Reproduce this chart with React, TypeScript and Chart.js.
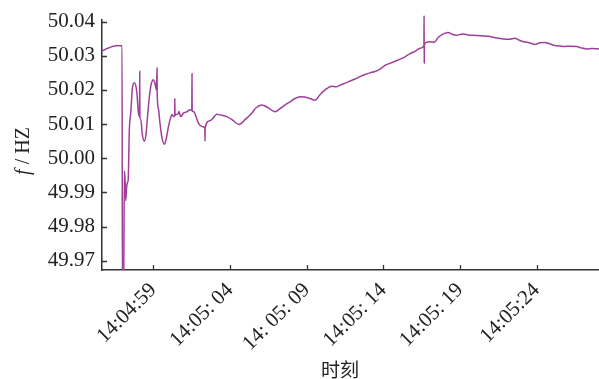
import React, { useEffect, useRef } from "react";
import { Chart, registerables } from "chart.js";

Chart.register(...registerables);

// seconds after 14:04:00
const times = [
  55.65, 55.8, 55.95, 56.1, 56.25, 56.4, 56.55, 56.7, 56.85, 56.96,
  56.98, 57.06, 57.11, 57.15, 57.2, 57.25, 57.3, 57.36, 57.43, 57.53,
  57.63, 57.76, 57.92, 58.02, 58.1, 58.11, 58.12, 58.18, 58.28, 58.41,
  58.52, 58.63, 58.74, 58.85, 59.0, 59.11, 59.2, 59.24, 59.25, 59.33,
  59.44, 59.57, 59.72, 59.83, 59.96, 60.09, 60.22, 60.3, 60.39, 60.4,
  60.41, 60.48, 60.63, 60.66, 60.79, 60.96, 61.18, 61.39, 61.51, 61.52,
  61.53, 61.65, 61.78, 61.94, 62.16, 62.36, 62.37, 62.38, 62.7, 62.89,
  63.13, 63.35, 63.79, 64.13, 64.59, 64.98, 65.42, 65.7, 66.07, 66.48,
  66.94, 67.26, 67.59, 67.91, 68.24, 68.56, 68.89, 69.22, 69.55, 69.87,
  70.2, 70.64, 70.92, 71.18, 71.51, 71.83, 72.16, 72.48, 72.81, 73.13,
  73.46, 73.79, 74.11, 74.44, 74.77, 75.09, 75.42, 75.74, 76.07, 76.4,
  76.65, 76.66, 76.67, 76.68, 76.79, 77.05, 77.31, 77.59, 77.83, 78.03,
  78.22, 78.48, 78.79, 79.0, 79.22, 79.53, 79.87, 80.18, 80.52, 80.83,
  81.18, 81.48, 81.83, 82.2, 82.59, 82.85, 83.14, 83.51, 83.9, 84.22,
  84.55, 84.81, 85.09, 85.4, 85.75, 86.18, 86.62, 86.9, 87.27, 87.62,
  88.07,
];

const freqs = [
  50.0314, 50.0317, 50.0321, 50.0323, 50.0326, 50.0328, 50.0329, 50.033, 50.0329, 50.033,
  49.96, 49.96, 49.9963, 49.9942, 49.9876, 49.9912, 49.9928, 49.9938, 50.0079, 50.0136,
  50.0204, 50.0221, 50.0194, 50.0136, 50.0122, 50.0255, 50.012, 50.0113, 50.007, 50.005,
  50.007, 50.0128, 50.018, 50.0215, 50.023, 50.0218, 50.02, 50.0264, 50.019, 50.0145,
  50.0099, 50.0058, 50.0041, 50.0055, 50.0087, 50.0113, 50.0128, 50.0122, 50.0124, 50.0175,
  50.0125, 50.0128, 50.0131, 50.0137, 50.0122, 50.0132, 50.0136, 50.0142, 50.014, 50.0247,
  50.0139, 50.0136, 50.0122, 50.0103, 50.0093, 50.0088, 50.005, 50.009, 50.011, 50.0117,
  50.0129, 50.0127, 50.0122, 50.0113, 50.0099, 50.0113, 50.0132, 50.0148, 50.0156, 50.0148,
  50.0136, 50.0145, 50.0156, 50.0165, 50.0175, 50.018, 50.0179, 50.0175, 50.017, 50.0186,
  50.02, 50.0211, 50.0209, 50.0214, 50.022, 50.0226, 50.0232, 50.0239, 50.0245, 50.025,
  50.0254, 50.0261, 50.0272, 50.0278, 50.0284, 50.029, 50.0297, 50.0306, 50.0313, 50.0322,
  50.0329, 50.0417, 50.0279, 50.0331, 50.0339, 50.0341, 50.0339, 50.0354, 50.0362, 50.0366,
  50.0368, 50.0363, 50.036, 50.0362, 50.0364, 50.0361, 50.036, 50.0359, 50.0358, 50.0357,
  50.0354, 50.0351, 50.0349, 50.0348, 50.0351, 50.0346, 50.0341, 50.0338, 50.0333, 50.0338,
  50.0339, 50.0336, 50.0331, 50.0329, 50.0327, 50.0328, 50.0327, 50.0323, 50.032, 50.0321,
  50.032,
];

const xTickValues = [59, 64, 69, 74, 79, 84];
const xTickLabels = ["14:04:59", "14:05: 04", "14: 05: 09", "14:05: 14", "14:05: 19", "14:05:24"];
const yTickValues = [49.97, 49.98, 49.99, 50.0, 50.01, 50.02, 50.03, 50.04];
const yTickLabels = ["49.97", "49.98", "49.99", "50.00", "50.01", "50.02", "50.03", "50.04"];

const xTitle = "时刻";
const yTitleItalic = "f";
const yTitleRest = " / HZ";

const SERIF = '"Liberation Serif", "Times New Roman", serif';

export default function App() {
  const ref = useRef<HTMLCanvasElement | null>(null);

  useEffect(() => {
    document.body.style.margin = "0";
    const canvas = ref.current;
    if (!canvas) return;

    const decor = {
      id: "decor",
      afterDraw(chart: any) {
        const { ctx, chartArea, scales } = chart;
        ctx.save();
        ctx.strokeStyle = "#333";
        ctx.lineWidth = 1.3;
        ctx.beginPath();
        for (const v of xTickValues) {
          const px = Math.round(scales.x.getPixelForValue(v)) + 0.5;
          ctx.moveTo(px, chartArea.bottom);
          ctx.lineTo(px, chartArea.bottom - 5);
        }
        for (const v of yTickValues) {
          const py = Math.round(scales.y.getPixelForValue(v)) + 0.5;
          ctx.moveTo(chartArea.left, py);
          ctx.lineTo(chartArea.left + 5, py);
        }
        ctx.stroke();

        // y title
        ctx.fillStyle = "#222";
        ctx.translate(24, 151);
        ctx.rotate(-Math.PI / 2);
        ctx.textBaseline = "middle";
        ctx.font = "italic 20px " + SERIF;
        const w1 = ctx.measureText(yTitleItalic).width;
        ctx.font = "20px " + SERIF;
        const w2 = ctx.measureText(yTitleRest).width;
        const sx = -(w1 + w2) / 2;
        ctx.font = "italic 20px " + SERIF;
        ctx.textAlign = "left";
        ctx.fillText(yTitleItalic, sx, 0);
        ctx.font = "20px " + SERIF;
        ctx.fillText(yTitleRest, sx + w1, 0);
        ctx.restore();

        // x title
        ctx.save();
        ctx.fillStyle = "#222";
        ctx.font = '19px "Noto Sans CJK SC", sans-serif';
        ctx.textAlign = "center";
        ctx.textBaseline = "middle";
        ctx.fillText(xTitle, chartArea.left + chartArea.width * 0.479, 370);
        ctx.restore();
      },
    };

    const chart = new Chart(canvas, {
      type: "line",
      data: {
        datasets: [
          {
            data: times.map((t, i) => ({ x: t, y: freqs[i] })),
            borderColor: "#9e3f9a",
            borderWidth: 1.5,
            pointRadius: 0,
            cubicInterpolationMode: "monotone",
            fill: false,
            clip: { left: 0, top: 10, right: 0, bottom: 0 } as any,
          },
        ],
      },
      options: {
        animation: false,
        responsive: false,
        devicePixelRatio: 1,
        layout: { padding: { top: 17, left: 0, right: 0, bottom: 0 } },
        plugins: {
          legend: { display: false },
          tooltip: { enabled: false },
          title: { display: false },
        },
        scales: {
          x: {
            type: "linear",
            min: 55.65,
            max: 88.07,
            grid: { display: false, drawTicks: false },
            border: { display: true, color: "#333", width: 1.5 },
            afterBuildTicks: (scale: any) => {
              scale.ticks = xTickValues.map((v) => ({ value: v }));
            },
            afterFit: (scale: any) => {
              scale.height = 109;
            },
            ticks: {
              autoSkip: false,
              maxRotation: 45,
              minRotation: 45,
              padding: 8,
              color: "#222",
              font: { family: SERIF, size: 21 },
              callback: (v: any) => {
                const i = xTickValues.indexOf(Number(v));
                return i >= 0 ? xTickLabels[i] : "";
              },
            },
          },
          y: {
            type: "linear",
            min: 49.96731,
            max: 50.04058,
            grid: { display: false, drawTicks: false },
            border: { display: true, color: "#333", width: 1.5 },
            afterBuildTicks: (scale: any) => {
              scale.ticks = yTickValues.map((v) => ({ value: v }));
            },
            afterFit: (scale: any) => {
              scale.width = 102;
            },
            ticks: {
              autoSkip: false,
              padding: 7,
              color: "#222",
              font: { family: SERIF, size: 21 },
              callback: (v: any) => {
                const i = yTickValues.findIndex((t) => Math.abs(t - Number(v)) < 1e-7);
                return i >= 0 ? yTickLabels[i] : "";
              },
            },
          },
        },
      },
      plugins: [decor],
    });

    return () => chart.destroy();
  }, []);

  return (
    <div style={{ position: "fixed", left: 0, top: 0, width: 599, height: 379, background: "#fff" }}>
      <canvas ref={ref} width={599} height={379} style={{ display: "block", width: 599, height: 379 }} />
    </div>
  );
}
